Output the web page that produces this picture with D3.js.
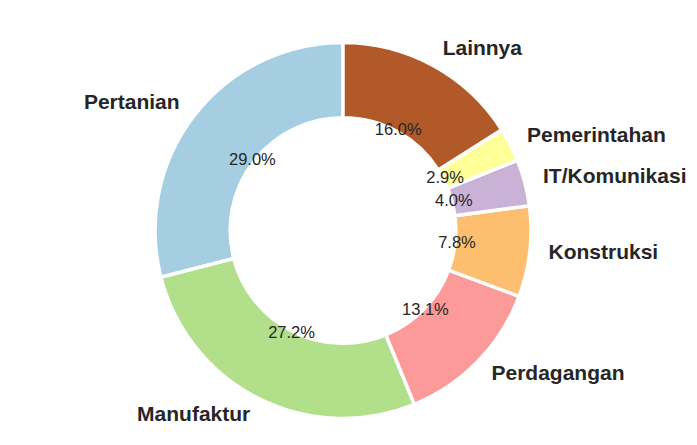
<!DOCTYPE html>
<html>
<head>
<meta charset="utf-8">
<script src="https://cdn.jsdelivr.net/npm/d3@7"></script>
<style>
  body { margin: 0; background: #fff; }
  text { font-family: "Liberation Sans", Arial, sans-serif; fill: #262626; }
</style>
</head>
<body>
<svg id="chart" width="697" height="445"></svg>
<script>
// sectors and their shares (percent)
const sectors = ["Pertanian", "Manufaktur", "Perdagangan", "Konstruksi", "IT/Komunikasi", "Pemerintahan", "Lainnya"];
const shares = [29.0, 27.2, 13.1, 7.8, 4.0, 2.9, 16.0];
const colors = ["#a6cee3", "#b2df8a", "#fb9a99", "#fdbf6f", "#cab2d6", "#ffff99", "#b15928"];

const data = sectors.map((s, i) => ({ name: s, value: shares[i], color: colors[i] }));

const svg = d3.select("#chart");
const cx = 343, cy = 230.5;
const R = 188;

const g = svg.append("g").attr("transform", `translate(${cx},${cy})`);

// counterclockwise from the top, like matplotlib
const pie = d3.pie().sort(null).value(d => d.value)
    .startAngle(0).endAngle(-2 * Math.PI);

const arc = d3.arc().innerRadius(R * 0.6).outerRadius(R);

const arcs = pie(data);

g.selectAll("path")
    .data(arcs)
    .enter().append("path")
    .attr("d", arc)
    .attr("fill", d => d.data.color)
    .attr("stroke", "#fff")
    .attr("stroke-width", 3.5)
    .attr("stroke-linejoin", "miter");

function pos(d, r) {
    const a = (d.startAngle + d.endAngle) / 2;
    return [Math.sin(a) * r, -Math.cos(a) * r];
}

// percent labels
g.selectAll(".pct")
    .data(arcs)
    .enter().append("text")
    .attr("class", "pct")
    .attr("x", d => pos(d, R * 0.61)[0])
    .attr("y", d => pos(d, R * 0.61)[1] - 1)
    .attr("text-anchor", "middle")
    .attr("dominant-baseline", "central")
    .style("font-size", "16.5px")
    .text(d => d.data.value.toFixed(1) + "%");

// category labels
g.selectAll(".lbl")
    .data(arcs)
    .enter().append("text")
    .attr("class", "lbl")
    .attr("x", d => pos(d, R * 1.1)[0])
    .attr("y", d => pos(d, R * 1.1)[1] - 2)
    .attr("text-anchor", d => pos(d, 1)[0] < 0 ? "end" : "start")
    .attr("dominant-baseline", "central")
    .style("font-size", "21px")
    .style("font-weight", "bold")
    .text(d => d.data.name);
</script>
</body>
</html>
